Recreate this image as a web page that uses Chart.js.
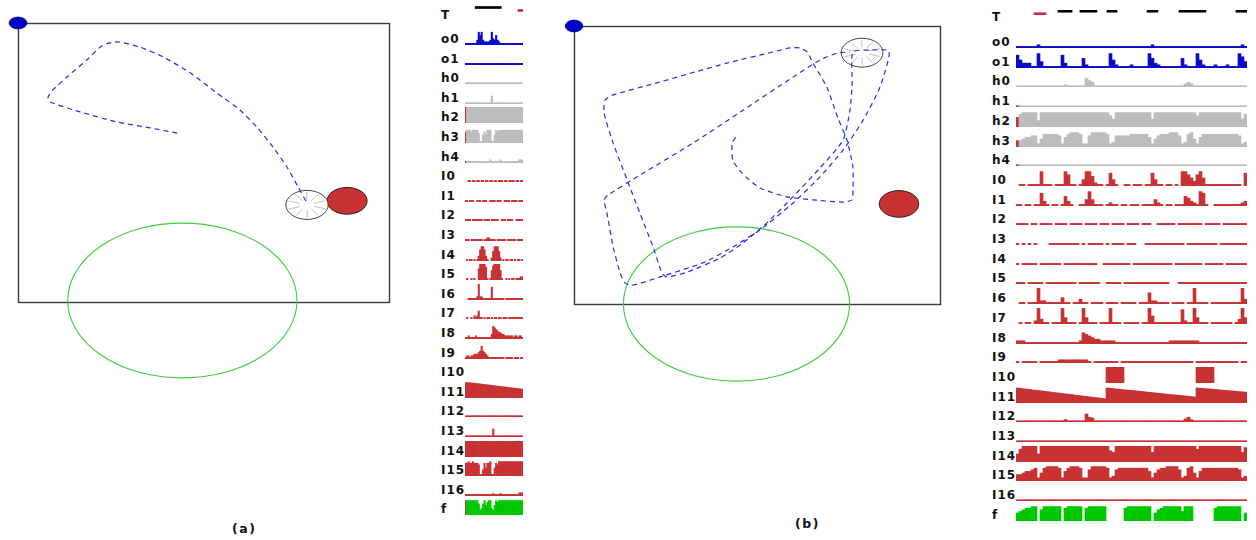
<!DOCTYPE html>
<html>
<head>
<meta charset="utf-8">
<script src="https://cdn.jsdelivr.net/npm/chart.js@4.4.1/dist/chart.umd.min.js"></script>
<style>
  body { margin: 0; width: 1256px; height: 540px; background: #fff; position: relative; overflow: hidden; font-family: "DejaVu Sans", sans-serif; }
  canvas, .lbl, .cap { position: absolute; }
  .lbl { font-weight: bold; font-size: 12px; letter-spacing: 1px; line-height: 14px; color: #111; }
  .cap { font-weight: bold; font-size: 12.5px; letter-spacing: 1.5px; color: #111; }
</style>
</head>
<body>
<script>
// arena is 100 x 75 units, y pointing up
const ARENA_W = 100, ARENA_H = 75;

// run (a)
const pathA = [[42.9,45.4],[35.6,46.8],[26.7,48.4],[16.7,51.1],[8.6,53.8],[8.1,55.1],[9.4,57.0],[13.2,60.5],[18.6,65.1],[22.9,69.1],[27.0,69.9],[32.9,68.5],[39.1,65.9],[46.4,61.6],[53.6,56.2],[59.8,51.6],[64.4,47.0],[68.7,41.7],[72.5,36.3],[75.5,30.9],[77.9,26.6]];
const robotA = [77.9, 26.1];
const lightA = [88.7, 27.2];
const zoneA = [44.3, 0.4];

// run (b)
const pathB = [
  [44.2,45.0],[43.2,43.4],[43.4,38.8],[45.9,35.3],[50.8,31.3],[58.2,28.9],[65.3,28.1],[73.5,27.5],[76.0,28.1],[76.2,29.9],
  [76.2,37.0],[74.6,44.2],[72.1,50.2],[69.1,58.5],[65.3,65.0],[63.7,68.0],[61.7,69.1],[59.0,69.1],
  [54.4,68.0],[41.8,65.0],[23.5,59.9],[10.7,56.4],[8.5,55.0],[8.2,51.5],
  [10.7,43.4],[14.5,33.5],[18.0,24.5],[21.6,15.4],[24.0,8.4],[25.4,7.3],
  [30.9,8.6],[39.9,12.4],[46.2,16.5],[52.7,21.9],[59.8,28.9],[67.2,36.7],[73.5,44.2],[75.4,52.3],[76.0,59.6],[76.2,68.0],
  [80.9,68.5],[86.1,68.2],
  [83.6,58.5],[79.0,49.6],[73.5,41.5],[67.2,34.3],[59.8,27.2],[50.8,20.0],[43.4,15.4],[35.2,11.1],[23.5,7.3],[16.1,5.1],[13.9,5.7],[12.6,8.4],
  [10.7,15.4],[9.0,24.5],[8.2,28.1],[9.3,29.4],
  [18.9,35.3],[32.5,43.4],[46.2,52.3],[59.8,61.2],[67.2,65.8],[71.9,67.7],[75.4,68.0]
];
const robotB = [78.7, 67.8];
const lightB = [88.8, 27.0];
const zoneB = [44.4, 0.0];

// radii in arena units
const robotR = [5.7, 3.9];
const lightR = [5.4, 3.6];
const zoneR = [30.9, 20.8];
const originR = [2.4, 1.6];

// activity traces, values 0..10, run (a)
const TA_black = [[7, 25]];
const TA_red = [[36.5, 40]];
const o0A = [1,1,1,1,1,1,1,1,3,8,6,8,3,2,2,2,2,3,8,4,3,6,3,2,1,1,1,1,1,1,1,1,1,1,1,1,1,1,1,1];
const o1A = [1,1,1,1,1,1,1,1,1,1,1,1,1,1,1,1,1,1,1,1,1,1,1,1,1,1,1,1,1,1,1,1,1,1,1,1,1,1,1,1];
const h0A = [0.8,0.8,0.8,0.8,0.8,0.8,0.8,0.8,0.8,0.8,0.8,0.8,0.8,0.8,0.8,0.8,0.8,0.8,0.8,0.8,0.8,0.8,0.8,0.8,0.8,0.8,0.8,0.8,0.8,0.8,0.8,0.8,0.8,0.8,0.8,0.8,0.8,0.8,0.8,0.8];
const h1A = [0.8,0.8,0.8,0.8,0.8,0.8,0.8,0.8,0.8,0.8,0.8,0.8,0.8,0.8,0.8,0.8,0.8,0.8,5,0.8,0.8,0.8,0.8,0.8,0.8,0.8,0.8,0.8,0.8,0.8,0.8,0.8,0.8,0.8,0.8,0.8,0.8,0.8,0.8,0.8];
const h2A = [10,10,10,10,10,10,10,10,10,10,10,10,10,10,10,10,10,10,10,10,10,10,10,10,10,10,10,10,10,10,10,10,10,10,10,10,10,10,10,10];
const h3A = [7,8,8,8,7,8,8,8,8,6,1,1,5,7,5,8,8,8,1,1,5,8,7,8,8,8,8,8,8,8,8,8,8,8,8,8,8,8,8,8];
const h4A = [1,1,1,1,1,1,1,1,1,1,1,1,1,1,1,1,1,2,1,1,1,1,1,1,2,1,1,1,1,1,1,1,1,1,1,1,1,2,2,2];
const I0A = [0,0,1,1,0,1,1,0,1,1,0,1,1,0,1,1,0,1,1,0,1,1,0,1,1,1,0,1,1,0,1,1,1,1,0,1,1,0,1,1];
const I1A = [1,1,0,1,1,1,0,0,1,1,1,0,1,1,1,0,0,1,1,1,1,0,1,1,1,0,0,1,1,1,1,0,1,1,1,1,0,1,1,1];
const I2A = [1,1,1,1,0,1,1,1,1,1,1,1,0,1,1,1,1,0,1,1,1,1,1,0,0,1,1,1,0,1,1,1,1,0,0,1,1,1,1,1];
const I3A = [1,1,1,0,1,1,1,1,1,1,1,1,0,1,1,2,2,1,1,1,1,0,1,1,1,1,1,1,0,1,1,1,1,1,1,0,1,1,1,1];
const I4A = [0,1,0,1,1,0,1,0,1,3,7,9,9,7,3,1,0,0,2,6,9,9,9,6,2,0,1,0,1,1,0,1,1,0,1,0,1,1,0,1];
const I5A = [0,1,0,0,1,0,1,0,0,7,10,10,10,10,8,1,0,1,6,9,10,10,10,10,6,1,0,0,1,0,1,0,1,1,0,1,1,1,2,2];
const I6A = [0,0,1,1,1,1,1,1,2,10,2,2,1,1,1,1,1,1,8,1,1,1,1,1,1,1,1,0,1,1,1,1,1,1,1,1,1,1,1,1];
const I7A = [0,1,0,0,1,0,2,1,2,5,1,1,0,1,0,1,1,0,1,0,1,1,0,1,1,0,1,1,1,0,1,1,1,1,1,1,1,1,1,1];
const I8A = [1,1,2,1,1,1,1,2,1,1,1,1,1,1,1,1,1,1,3,8,7,6,5,4,4,3,3,2,2,2,2,2,2,1,2,2,1,2,2,1];
const I9A = [1,2,2,1,2,2,3,3,3,4,5,8,5,4,3,2,1,1,1,1,1,1,1,1,1,1,1,0,1,1,1,1,1,0,1,1,1,0,1,1];
const I10A = [0,0,0,0,0,0,0,0,0,0,0,0,0,0,0,0,0,0,0,0,0,0,0,0,0,0,0,0,0,0,0,0,0,0,0,0,0,0,0,0];
const I11A = [9.6,9.6,9.6,9.5,9.4,9.3,9.2,9.1,9,8.9,8.8,8.7,8.5,8.4,8.3,8.2,8.1,8,7.9,7.8,7.7,7.5,7.4,7.3,7.2,7.1,7,6.9,6.8,6.7,6.5,6.4,6.3,6.2,6.1,6,5.9,5.8,5.6,5.5];
const I12A = [0.8,0.8,0.8,0.8,0.8,0.8,0.8,0.8,0.8,0.8,0.8,0.8,0.8,0.8,0.8,0.8,0.8,0.8,0.8,0.8,0.8,0.8,0.8,0.8,0.8,0.8,0.8,0.8,0.8,0.8,0.8,0.8,0.8,0.8,0.8,0.8,0.8,0.8,0.8,0.8];
const I13A = [0.8,0.8,0.8,0.8,0.8,0.8,0.8,0.8,0.8,0.8,0.8,0.8,0.8,0.8,0.8,0.8,0.8,0.8,0.8,5,0.8,0.8,0.8,0.8,0.8,0.8,0.8,0.8,0.8,0.8,0.8,0.8,0.8,0.8,0.8,0.8,0.8,0.8,0.8,0.8];
const I14A = [10,10,10,10,10,10,10,10,10,10,10,10,10,10,10,10,10,10,10,10,10,10,10,10,10,10,10,10,10,10,10,10,10,10,10,10,10,10,10,10];
const I15A = [8,8,9,8,8,9,8,8,8,7,1,1,4,8,5,8,8,9,1,1,5,8,7,9,9,9,9,9,9,9,9,9,9,9,9,9,9,9,9,9];
const I16A = [1,1,1,1,1,1,1,1,1,1,1,1,1,1,1,1,1,1,1,1.5,1,1,1,1,1.5,1,1,1,1,1,1,1,1,1,1,1,1,2,2,2];
const fA = [9,9,9,9,9,9,9,9,9,7,3,4,7,9,6,8,9,9,4,3,6,9,8,9,9,9,9,9,9,9,9,9,9,9,9,9,9,9,9,9];

// activity traces, values 0..10, run (b)
const TB_black = [[14, 18.7], [21.3, 27], [30.3, 33.7], [43.7, 47.3], [54.3, 63.3], [73.3, 77]];
const TB_red = [[6, 10]];
const o0B = [1,1,1,1,1,1,1,2,1,1,1, 1,1,1,1,1,1,1,1,1,1,1, 1,1,1,1,1,1,1,1,1,1,1, 1,1,1,1,1,1,1,1,1,1,1, 1,2,1,1,1,1,1,1,1,1,1, 1,1,1,1,1,1,1,1,1,1,1, 1,1,1,1,1,1,1,1,1,2,1];
const o1B = [8,5,3,3,3,1,1,9,4,1,1, 1,1,1,1,8,3,1,1,1,1,1, 6,2,1,1,1,1,1,1,1,9,5, 2,1,1,1,1,2,1,1,1,1,1, 9,6,3,2,1,1,1,1,1,1,1, 6,2,1,1,1,9,5,2,1,1,1, 2,1,1,1,2,1,1,1,9,7,4];
const h0B = [0.8,0.8,0.8,0.8,0.8,0.8,0.8,0.8,0.8,0.8,0.8, 0.8,0.8,0.8,0.8,0.8,1.5,0.8,0.8,0.8,0.8,0.8, 0.8,5.5,4,3,0.8,0.8,0.8,0.8,0.8,0.8,0.8, 0.8,0.8,0.8,0.8,0.8,0.8,0.8,0.8,0.8,0.8,0.8, 0.8,0.8,0.8,0.8,0.8,0.8,0.8,0.8,0.8,0.8,0.8, 0.8,2,3,2,0.8,0.8,0.8,0.8,0.8,0.8,0.8, 0.8,0.8,0.8,0.8,0.8,0.8,0.8,0.8,0.8,0.8,0.8];
const h1B = [0.8,0.8,0.8,0.8,0.8,0.8,0.8,0.8,0.8,0.8,0.8, 0.8,0.8,0.8,0.8,0.8,0.8,0.8,0.8,0.8,0.8,0.8, 0.8,0.8,0.8,0.8,0.8,0.8,0.8,0.8,0.8,0.8,0.8, 0.8,0.8,0.8,0.8,0.8,0.8,0.8,0.8,0.8,0.8,0.8, 0.8,0.8,0.8,0.8,0.8,0.8,0.8,0.8,0.8,0.8,0.8, 0.8,0.8,0.8,0.8,0.8,0.8,0.8,0.8,0.8,0.8,0.8, 0.8,0.8,0.8,0.8,0.8,0.8,0.8,0.8,0.8,0.8,0.8];
const h2B = [6,8,9,9,9,9,9,4,9,9,9, 9,9,9,9,9,9,9,9,9,9,9, 9,9,9,9,9,9,9,9,9,7,5, 9,9,9,9,9,9,9,9,9,9,9, 9,5,9,9,9,9,9,9,9,9,9, 9,9,9,9,9,7,9,9,9,9,9, 9,9,9,9,9,9,9,9,9,5,8];
const h3B = [4,4,5,6,6,7,7,2,5,8,8, 8,8,8,7,2,6,8,9,9,9,8, 2,2,7,9,9,9,9,9,8,2,3, 7,7,7,7,7,8,8,8,8,8,8, 6,2,5,7,8,8,8,9,9,9,7, 2,3,8,9,5,2,6,8,8,8,8, 8,8,8,8,8,8,8,8,7,2,3];
const h4B = [0.8,0.8,0.8,0.8,0.8,0.8,0.8,0.8,0.8,0.8,0.8, 0.8,0.8,0.8,0.8,0.8,0.8,0.8,0.8,0.8,0.8,0.8, 0.8,0.8,0.8,0.8,0.8,0.8,0.8,0.8,0.8,0.8,0.8, 0.8,0.8,0.8,0.8,0.8,0.8,0.8,0.8,0.8,0.8,0.8, 0.8,0.8,0.8,0.8,0.8,0.8,0.8,0.8,0.8,0.8,0.8, 0.8,0.8,0.8,0.8,0.8,0.8,0.8,0.8,0.8,0.8,0.8, 0.8,0.8,0.8,0.8,0.8,0.8,0.8,0.8,0.8,0.8,0.8];
const I0B = [0,1,1,0,1,1,1,1,9,1,1, 1,0,1,1,1,9,7,1,1,0,1, 4,9,9,6,2,1,1,0,1,8,4, 1,0,0,1,1,0,1,1,1,0,1, 1,8,4,1,1,0,1,1,0,1,0, 9,9,7,5,3,7,9,5,1,1,1, 1,1,1,1,1,1,1,1,1,0,8];
const I1B = [1,1,0,1,1,0,1,1,8,3,1, 0,1,1,0,1,6,3,1,0,0,1, 1,4,9,4,1,1,1,0,1,2,1, 1,0,1,1,0,1,1,1,0,1,1, 1,1,4,2,1,0,1,1,0,1,1, 1,6,5,3,2,1,9,8,1,0,0, 1,1,1,1,1,1,1,1,1,2,3];
const I2B = [1,1,1,1,0,1,1,0,1,1,1, 1,0,1,1,1,1,0,1,1,1,1, 0,1,1,1,1,0,1,1,1,0,1, 1,1,1,0,1,1,1,1,0,1,1, 1,0,0,1,1,1,1,1,1,0,1, 1,1,1,1,1,1,1,0,1,1,1, 1,1,0,1,1,1,1,1,1,1,1];
const I3B = [1,0,1,0,1,0,1,0,0,0,0, 1,1,1,1,1,1,1,1,1,1,0, 1,0,1,1,1,1,1,0,1,0,1, 1,1,1,0,1,1,1,0,0,0,1, 1,1,1,1,1,1,1,1,1,1,1, 1,0,1,1,1,1,1,1,1,1,1, 1,0,1,1,1,1,1,1,1,1,1];
const I4B = [1,0,1,1,1,1,1,0,1,1,1, 1,1,1,1,0,1,1,1,1,1,1, 1,1,1,1,1,0,0,1,1,1,1, 1,1,1,1,1,0,1,1,1,1,1, 1,1,1,1,1,1,1,1,0,1,1, 1,1,1,1,1,1,1,0,1,1,1, 1,1,1,0,1,1,1,1,1,1,1];
const I5B = [1,1,1,0,1,1,1,1,1,0,1, 1,1,1,1,1,1,1,1,1,0,1, 1,1,1,1,1,1,0,0,1,1,1, 1,1,0,1,1,1,1,1,1,1,1, 1,1,1,1,1,1,1,0,0,0,1, 1,1,1,1,1,1,1,1,1,1,1, 1,1,1,1,1,1,1,1,1,1,1];
const I6B = [0,1,1,0,1,1,1,10,2,2,1, 1,1,1,1,4,1,1,0,1,1,3, 1,1,0,1,1,1,1,0,1,1,1, 1,0,1,1,1,1,1,0,1,1,1, 7,2,2,1,1,1,1,0,1,1,1, 1,0,1,1,10,1,1,1,1,0,1, 1,1,1,1,1,1,1,1,1,10,3];
const I7B = [0,1,0,1,1,0,2,10,3,1,1, 0,1,1,1,10,4,1,1,1,0,1, 10,4,1,1,1,0,1,1,1,10,1, 1,1,0,1,1,1,1,1,0,1,1, 10,5,1,1,1,1,1,1,1,1,1, 9,2,1,1,10,4,1,1,1,0,1, 1,1,1,1,1,1,0,1,3,10,4];
const I8B = [2,2,2,1,1,1,1,1,1,1,1, 1,1,1,1,1,1,1,1,1,1,2, 7,6,5,4,3,3,2,2,2,2,2, 1,1,1,1,1,1,1,1,1,1,1, 1,1,1,1,1,1,1,2,2,2,2, 2,2,2,2,2,2,1,1,1,1,1, 1,1,1,1,1,1,1,1,1,1,1];
const I9B = [1,0,1,1,1,1,1,0,1,1,1, 1,1,1,2,2,2,2,2,2,2,2, 2,2,1,0,1,1,1,1,1,1,1, 1,0,1,1,1,1,1,1,1,1,1, 1,1,1,1,1,1,1,1,1,1,1, 1,1,1,1,0,1,1,1,1,1,1, 1,1,1,1,1,1,1,1,0,1,1];
const I10B = [0,0,0,0,0,0,0,0,0,0,0, 0,0,0,0,0,0,0,0,0,0,0, 0,0,0,0,0,0,0,0,10,10,10, 10,10,10,0,0,0,0,0,0,0,0, 0,0,0,0,0,0,0,0,0,0,0, 0,0,0,0,0,10,10,10,10,10,10, 0,0,0,0,0,0,0,0,0,0,0];
const I11B = [9.4,9.2,8.9,8.7,8.5,8.2,8.0,7.8,7.6,7.3,7.1,6.9,6.6,6.4,6.2,5.9,5.7,5.5,5.3,5.0,4.8,4.6,4.3,4.1,3.9,3.6,3.4,3.2,3.0,2.7,
  9.4,9.2,9.0,8.8,8.6,8.4,8.2,8.0,7.9,7.7,7.5,7.3,7.1,6.9,6.7,6.5,6.3,6.1,5.9,5.7,5.5,5.3,5.2,5.0,4.8,4.6,4.4,4.2,4.0,3.8,
  9.4,9.2,9.1,8.9,8.8,8.6,8.4,8.3,8.1,7.9,7.8,7.6,7.5,7.3,7.1,7.0,6.8];
const I12B = [0.8,0.8,0.8,0.8,0.8,0.8,0.8,0.8,0.8,0.8,0.8, 0.8,0.8,0.8,0.8,0.8,1.5,0.8,0.8,0.8,0.8,0.8, 0.8,5,3,2.5,0.8,0.8,0.8,0.8,0.8,0.8,0.8, 0.8,0.8,0.8,0.8,0.8,0.8,0.8,0.8,0.8,0.8,0.8, 0.8,0.8,0.8,0.8,0.8,0.8,0.8,0.8,0.8,0.8,0.8, 0.8,2,3,1.5,0.8,0.8,0.8,0.8,0.8,0.8,0.8, 0.8,0.8,0.8,0.8,0.8,0.8,0.8,0.8,0.8,0.8,0.8];
const I13B = [0.8,0.8,0.8,0.8,0.8,0.8,0.8,0.8,0.8,0.8,0.8, 0.8,0.8,0.8,0.8,0.8,0.8,0.8,0.8,0.8,0.8,0.8, 0.8,0.8,0.8,0.8,0.8,0.8,0.8,0.8,0.8,0.8,0.8, 0.8,0.8,0.8,0.8,0.8,0.8,0.8,0.8,0.8,0.8,0.8, 0.8,0.8,0.8,0.8,0.8,0.8,0.8,0.8,0.8,0.8,0.8, 0.8,0.8,0.8,0.8,0.8,0.8,0.8,0.8,0.8,0.8,0.8, 0.8,0.8,0.8,0.8,0.8,0.8,0.8,0.8,0.8,0.8,0.8];
const I14B = [5,8,10,10,10,10,10,5,10,10,10, 10,10,10,10,10,10,10,10,10,10,10, 10,10,10,10,10,10,10,10,10,7,6, 10,10,10,10,10,10,10,10,10,10,10, 10,6,10,10,10,10,10,10,10,10,10, 10,10,10,10,10,8,10,10,10,10,10, 10,10,10,10,10,10,10,10,10,6,9];
const I15B = [4,4,5,6,6,7,8,2,5,8,9, 9,9,9,8,2,6,8,9,9,9,8, 2,2,7,9,9,9,9,9,8,2,3, 7,8,8,8,8,8,8,8,8,8,8, 6,2,5,7,8,8,9,9,9,9,7, 2,3,8,9,5,2,6,8,8,8,8, 8,8,8,8,8,8,8,8,7,2,3];
const I16B = [0.8,0.8,0.8,0.8,0.8,0.8,0.8,0.8,0.8,0.8,0.8, 0.8,0.8,0.8,0.8,0.8,0.8,0.8,0.8,0.8,0.8,0.8, 0.8,0.8,0.8,0.8,0.8,0.8,0.8,0.8,0.8,0.8,0.8, 0.8,0.8,0.8,0.8,0.8,0.8,0.8,0.8,0.8,0.8,0.8, 0.8,0.8,0.8,0.8,0.8,0.8,0.8,0.8,0.8,0.8,0.8, 0.8,0.8,0.8,0.8,0.8,0.8,0.8,0.8,0.8,0.8,0.8, 0.8,0.8,0.8,0.8,0.8,0.8,0.8,0.8,0.8,0.8,0.8];
const fB = [5,6,7,8,8,9,9,0,7,9,9, 9,9,9,9,0,8,9,9,9,9,9, 0,8,9,9,9,9,9,9,0,0,0, 0,0,0,8,9,9,9,9,9,9,9, 9,0,5,7,8,9,9,9,9,9,9, 6,9,9,9,0,0,0,0,0,0,0, 8,9,9,9,9,9,9,9,9,0,5];

const rowNames = ['o0','o1','h0','h1','h2','h3','h4','I0','I1','I2','I3','I4','I5','I6','I7','I8','I9','I10','I11','I12','I13','I14','I15','I16','f'];

const BLUE = '#0a0ac8', GRAY = '#bdbdbd', RED = '#c83232', GREEN = '#00c800';

function addCanvas(left, top, width, height) {
  const cv = document.createElement('canvas');
  cv.width = width;
  cv.height = height;
  cv.style.left = left + 'px';
  cv.style.top = top + 'px';
  document.body.appendChild(cv);
  return cv;
}

function addText(cls, text, left, top) {
  const d = document.createElement('div');
  d.className = cls;
  d.textContent = text;
  d.style.left = left + 'px';
  d.style.top = top + 'px';
  document.body.appendChild(d);
}

const quiet = {
  animation: false,
  responsive: false,
  events: [],
  layout: { padding: 0 },
  plugins: { legend: { display: false }, tooltip: { enabled: false } }
};

// ---------- arena ----------
function ellipse(ctx, chart, c, r) {
  const x = chart.scales.x, y = chart.scales.y;
  const cx = x.getPixelForValue(c[0]), cy = y.getPixelForValue(c[1]);
  const rx = Math.abs(x.getPixelForValue(c[0] + r[0]) - cx);
  const ry = Math.abs(y.getPixelForValue(c[1] + r[1]) - cy);
  ctx.beginPath();
  ctx.ellipse(cx, cy, rx, ry, 0, 0, Math.PI * 2);
  return [cx, cy, rx, ry];
}

function arenaPlugin(robot, light, zone) {
  return {
    id: 'arena',
    beforeDatasetsDraw(chart) {
      const ctx = chart.ctx, x = chart.scales.x, y = chart.scales.y;
      ctx.save();
      // walls
      ctx.strokeStyle = '#3a3a3a';
      ctx.lineWidth = 1.4;
      const l = x.getPixelForValue(0), r = x.getPixelForValue(ARENA_W);
      const t = y.getPixelForValue(ARENA_H), b = y.getPixelForValue(0);
      ctx.strokeRect(Math.round(l) + 0.5, Math.round(t) + 0.5, Math.round(r - l), Math.round(b - t));
      // goal zone
      ellipse(ctx, chart, zone, zoneR);
      ctx.strokeStyle = '#3ccf3c';
      ctx.lineWidth = 1.1;
      ctx.stroke();
      // light source
      ellipse(ctx, chart, light, lightR);
      ctx.fillStyle = RED;
      ctx.fill();
      ctx.strokeStyle = '#222';
      ctx.lineWidth = 1;
      ctx.stroke();
      // robot body with sensor spokes
      const [cx, cy, rx, ry] = ellipse(ctx, chart, robot, robotR);
      ctx.fillStyle = '#fff';
      ctx.fill();
      ctx.strokeStyle = '#444';
      ctx.stroke();
      ctx.strokeStyle = '#c4c4c4';
      ctx.lineWidth = 1;
      for (let k = 0; k < 10; k++) {
        const a = k * Math.PI / 5 + 0.3;
        ctx.beginPath();
        ctx.moveTo(cx + Math.cos(a) * rx * 0.35, cy + Math.sin(a) * ry * 0.35);
        ctx.lineTo(cx + Math.cos(a) * rx * 0.9, cy + Math.sin(a) * ry * 0.9);
        ctx.stroke();
      }
      ctx.restore();
    },
    afterDatasetsDraw(chart) {
      const ctx = chart.ctx;
      ctx.save();
      ellipse(ctx, chart, [0, ARENA_H], originR);
      ctx.fillStyle = '#0000c8';
      ctx.fill();
      ctx.strokeStyle = '#000060';
      ctx.lineWidth = 0.8;
      ctx.stroke();
      ctx.restore();
    }
  };
}

function arenaChart(cvLeft, cvTop, cvSize, box, path, robot, light, zone) {
  const cv = addCanvas(cvLeft, cvTop, cvSize, cvSize);
  const sx = (box.right - box.left) / ARENA_W;
  const sy = (box.bottom - box.top) / ARENA_H;
  const xMin = -(box.left - cvLeft) / sx;
  const yMax = ARENA_H + (box.top - cvTop) / sy;
  new Chart(cv, {
    type: 'scatter',
    data: {
      datasets: [{
        data: path.map(p => ({ x: p[0], y: p[1] })),
        showLine: true,
        borderColor: '#2b2be6',
        borderWidth: 1.2,
        borderDash: [5, 4],
        pointRadius: 0,
        tension: 0.2
      }]
    },
    options: Object.assign({}, quiet, {
      scales: {
        x: { type: 'linear', display: false, min: xMin, max: xMin + cvSize / sx },
        y: { type: 'linear', display: false, min: yMax - cvSize / sy, max: yMax }
      }
    }),
    plugins: [arenaPlugin(robot, light, zone)]
  });
}

// ---------- trace column ----------
function traceRow(left, top, width, values, color, leadRed) {
  const cv = addCanvas(left, top, width, 16);
  new Chart(cv, {
    type: 'bar',
    data: {
      labels: values.map((v, i) => i),
      datasets: [{
        // silent bins are left empty
        data: values.map(v => v > 0 ? v : null),
        backgroundColor: values.map((v, i) => (leadRed && i === 0) ? RED : color),
        borderWidth: 0,
        barPercentage: 1,
        categoryPercentage: 1
      }]
    },
    options: Object.assign({}, quiet, {
      scales: { x: { display: false }, y: { display: false, min: 0, max: 10 } }
    })
  });
}

function targetRow(left, top, width, height, n, black, red) {
  const cv = addCanvas(left, top, width, height);
  const sets = black.map(s => ({ data: [s, null], backgroundColor: '#000' }))
    .concat(red.map(s => ({ data: [null, s], backgroundColor: RED })));
  new Chart(cv, {
    type: 'bar',
    data: { labels: ['hi', 'lo'], datasets: sets },
    options: Object.assign({}, quiet, {
      indexAxis: 'y',
      datasets: { bar: { grouped: false, barThickness: 2, borderWidth: 0 } },
      scales: { x: { type: 'linear', display: false, min: 0, max: n }, y: { display: false } }
    })
  });
}

function rowColor(name) {
  if (name[0] === 'o') return BLUE;
  if (name[0] === 'h') return GRAY;
  if (name[0] === 'f') return GREEN;
  return RED;
}

function traceColumn(cfg, table) {
  addText('lbl', 'T', cfg.labelX, cfg.tLabelY - 7);
  targetRow(cfg.plotX, cfg.tTop, cfg.plotW, cfg.tHeight, table.o0.length, cfg.black, cfg.red);
  rowNames.forEach((name, i) => {
    const cy = Math.round(cfg.firstY + cfg.stepY * i);
    addText('lbl', name, cfg.labelX, cy - 7);
    traceRow(cfg.plotX, cy - 10, cfg.plotW, table[name], rowColor(name), cfg.leadRed.includes(name));
  });
}

const tableA = { o0: o0A, o1: o1A, h0: h0A, h1: h1A, h2: h2A, h3: h3A, h4: h4A,
  I0: I0A, I1: I1A, I2: I2A, I3: I3A, I4: I4A, I5: I5A, I6: I6A, I7: I7A, I8: I8A, I9: I9A,
  I10: I10A, I11: I11A, I12: I12A, I13: I13A, I14: I14A, I15: I15A, I16: I16A, f: fA };
const tableB = { o0: o0B, o1: o1B, h0: h0B, h1: h1B, h2: h2B, h3: h3B, h4: h4B,
  I0: I0B, I1: I1B, I2: I2B, I3: I3B, I4: I4B, I5: I5B, I6: I6B, I7: I7B, I8: I8B, I9: I9B,
  I10: I10B, I11: I11B, I12: I12B, I13: I13B, I14: I14B, I15: I15B, I16: I16B, f: fB };

arenaChart(0, 0, 400, { left: 18, top: 23, right: 389, bottom: 302 }, pathA, robotA, lightA, zoneA);
arenaChart(560, 0, 400, { left: 574, top: 26, right: 940, bottom: 304 }, pathB, robotB, lightB, zoneB);

traceColumn({ labelX: 441, plotX: 465, plotW: 58, firstY: 39, stepY: 19.6,
  tLabelY: 15, tTop: 6, tHeight: 6, black: TA_black, red: TA_red,
  leadRed: ['h2', 'h3', 'h4', 'f'] }, tableA);
traceColumn({ labelX: 992, plotX: 1016, plotW: 231, firstY: 42, stepY: 19.7,
  tLabelY: 17, tTop: 10, tHeight: 5, black: TB_black, red: TB_red,
  leadRed: ['h1', 'h2', 'h3', 'h4'] }, tableB);

addText('cap', '(a)', 232, 521);
addText('cap', '(b)', 795, 516);
</script>
</body>
</html>
